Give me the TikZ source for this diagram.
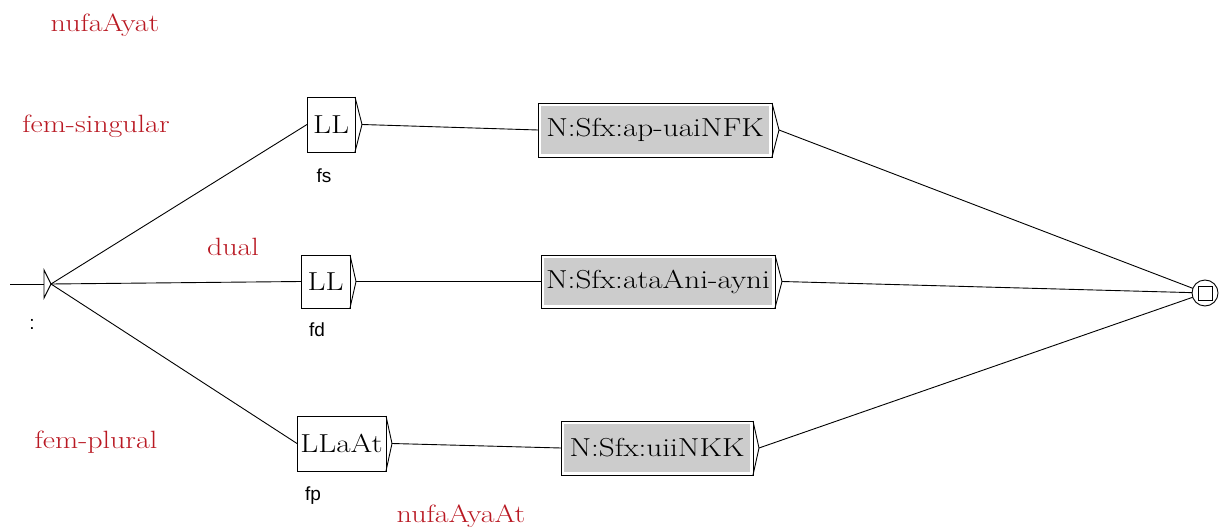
\documentclass[tikz,border=0pt]{standalone}
\usepackage{fontspec}
\usepackage{graphicx}
\newfontfamily\labelfont{Liberation Sans}
\usetikzlibrary{calc}
\definecolor{cmtred}{RGB}{185,25,35}
\definecolor{boxgray}{RGB}{204,204,204}
\newcommand{\wtxt}[1]{\scalebox{1.2}[1]{#1}}
\tikzset{
  every node/.style={inner sep=0pt, outer sep=0pt},
  boxtxt/.style={font=\fontsize{26}{30}\selectfont},
  plainbox/.style={draw, line width=0.9pt, fill=white, boxtxt},
  graybox/.style={draw, line width=0.9pt, fill=white, boxtxt,
    path picture={\fill[boxgray] ([shift={(3pt,3pt)}]path picture bounding box.south west) rectangle ([shift={(-3pt,-3pt)}]path picture bounding box.north east);}},
  cmt/.style={text=cmtred, font=\fontsize{25}{29}\selectfont, anchor=base},
  outlbl/.style={font=\labelfont\fontsize{19}{22}\selectfont},
  edge/.style={line width=0.9pt},
  tri/.style={line width=0.9pt},
}
\begin{document}
\begin{tikzpicture}[x=1pt,y=-1pt]
\useasboundingbox (0,0) rectangle (1220,529);
% initial state
\coordinate (init0) at (10,284);
\coordinate (initbar) at (44,284);
\coordinate (inittip) at (51,284);
\draw[edge] (init0) -- (initbar);
\draw[tri] (44,270) -- (inittip) -- (44,298) -- cycle;
\node[outlbl] (colon) at (32,324) {:};
% boxes
\node[plainbox, minimum width=48pt, minimum height=55pt] (fs) at (331,124.5) {\wtxt{LL}};
\node[graybox, minimum width=234pt, minimum height=54pt] (ap) at (655,130) {\wtxt{N:Sfx:ap-uaiNFK}};
\node[plainbox, minimum width=49pt, minimum height=53pt] (fd) at (325.5,281.5) {\wtxt{LL}};
\node[graybox, minimum width=234pt, minimum height=53pt] (ata) at (658,281.5) {\wtxt{N:Sfx:ataAni-ayni}};
\node[plainbox, minimum width=89pt, minimum height=55pt] (fp) at (341.5,443.5) {\wtxt{LLaAt}};
\node[graybox, minimum width=192pt, minimum height=54pt] (uii) at (657,448) {\wtxt{N:Sfx:uiiNKK}};
% triangles
\foreach \b/\w in {fs/7,ap/7,fd/6,ata/7,fp/6,uii/6}{
  \draw[tri] (\b.north east) -- ($(\b.east)+(\w,0)$) coordinate (\b t) -- (\b.south east);
}
% final state
\node[draw, circle, line width=0.9pt, minimum size=26pt] (final) at (1205,293) {};
\draw[line width=0.9pt] ($(final)+(-7,-7)$) rectangle ($(final)+(7,7)$);
% output labels
\node[outlbl] (lfs) at (324,176) {fs};
\node[outlbl] (lfd) at (317,330) {fd};
\node[outlbl] (lfp) at (313,496) {fp};
% comments
\node[cmt] (c1) at (105,32) {\wtxt{nufaAyat}};
\node[cmt] (c2) at (96,133) {\wtxt{fem-singular}};
\node[cmt] (c3) at (233,255) {\wtxt{dual}};
\node[cmt] (c4) at (96,448) {\wtxt{fem-plural}};
\node[cmt] (c5) at (461,522) {\wtxt{nufaAyaAt}};
% connectors
\draw[edge] (inittip) -- (fs.west);
\draw[edge] (inittip) -- (fd.west);
\draw[edge] (inittip) -- (fp.west);
\draw[edge] (fst) -- (ap.west);
\draw[edge] (fdt) -- (ata.west);
\draw[edge] (fpt) -- (uii.west);
\draw[edge] (apt) -- (final);
\draw[edge] (atat) -- (final);
\draw[edge] (uiit) -- (final);
\end{tikzpicture}
\end{document}
